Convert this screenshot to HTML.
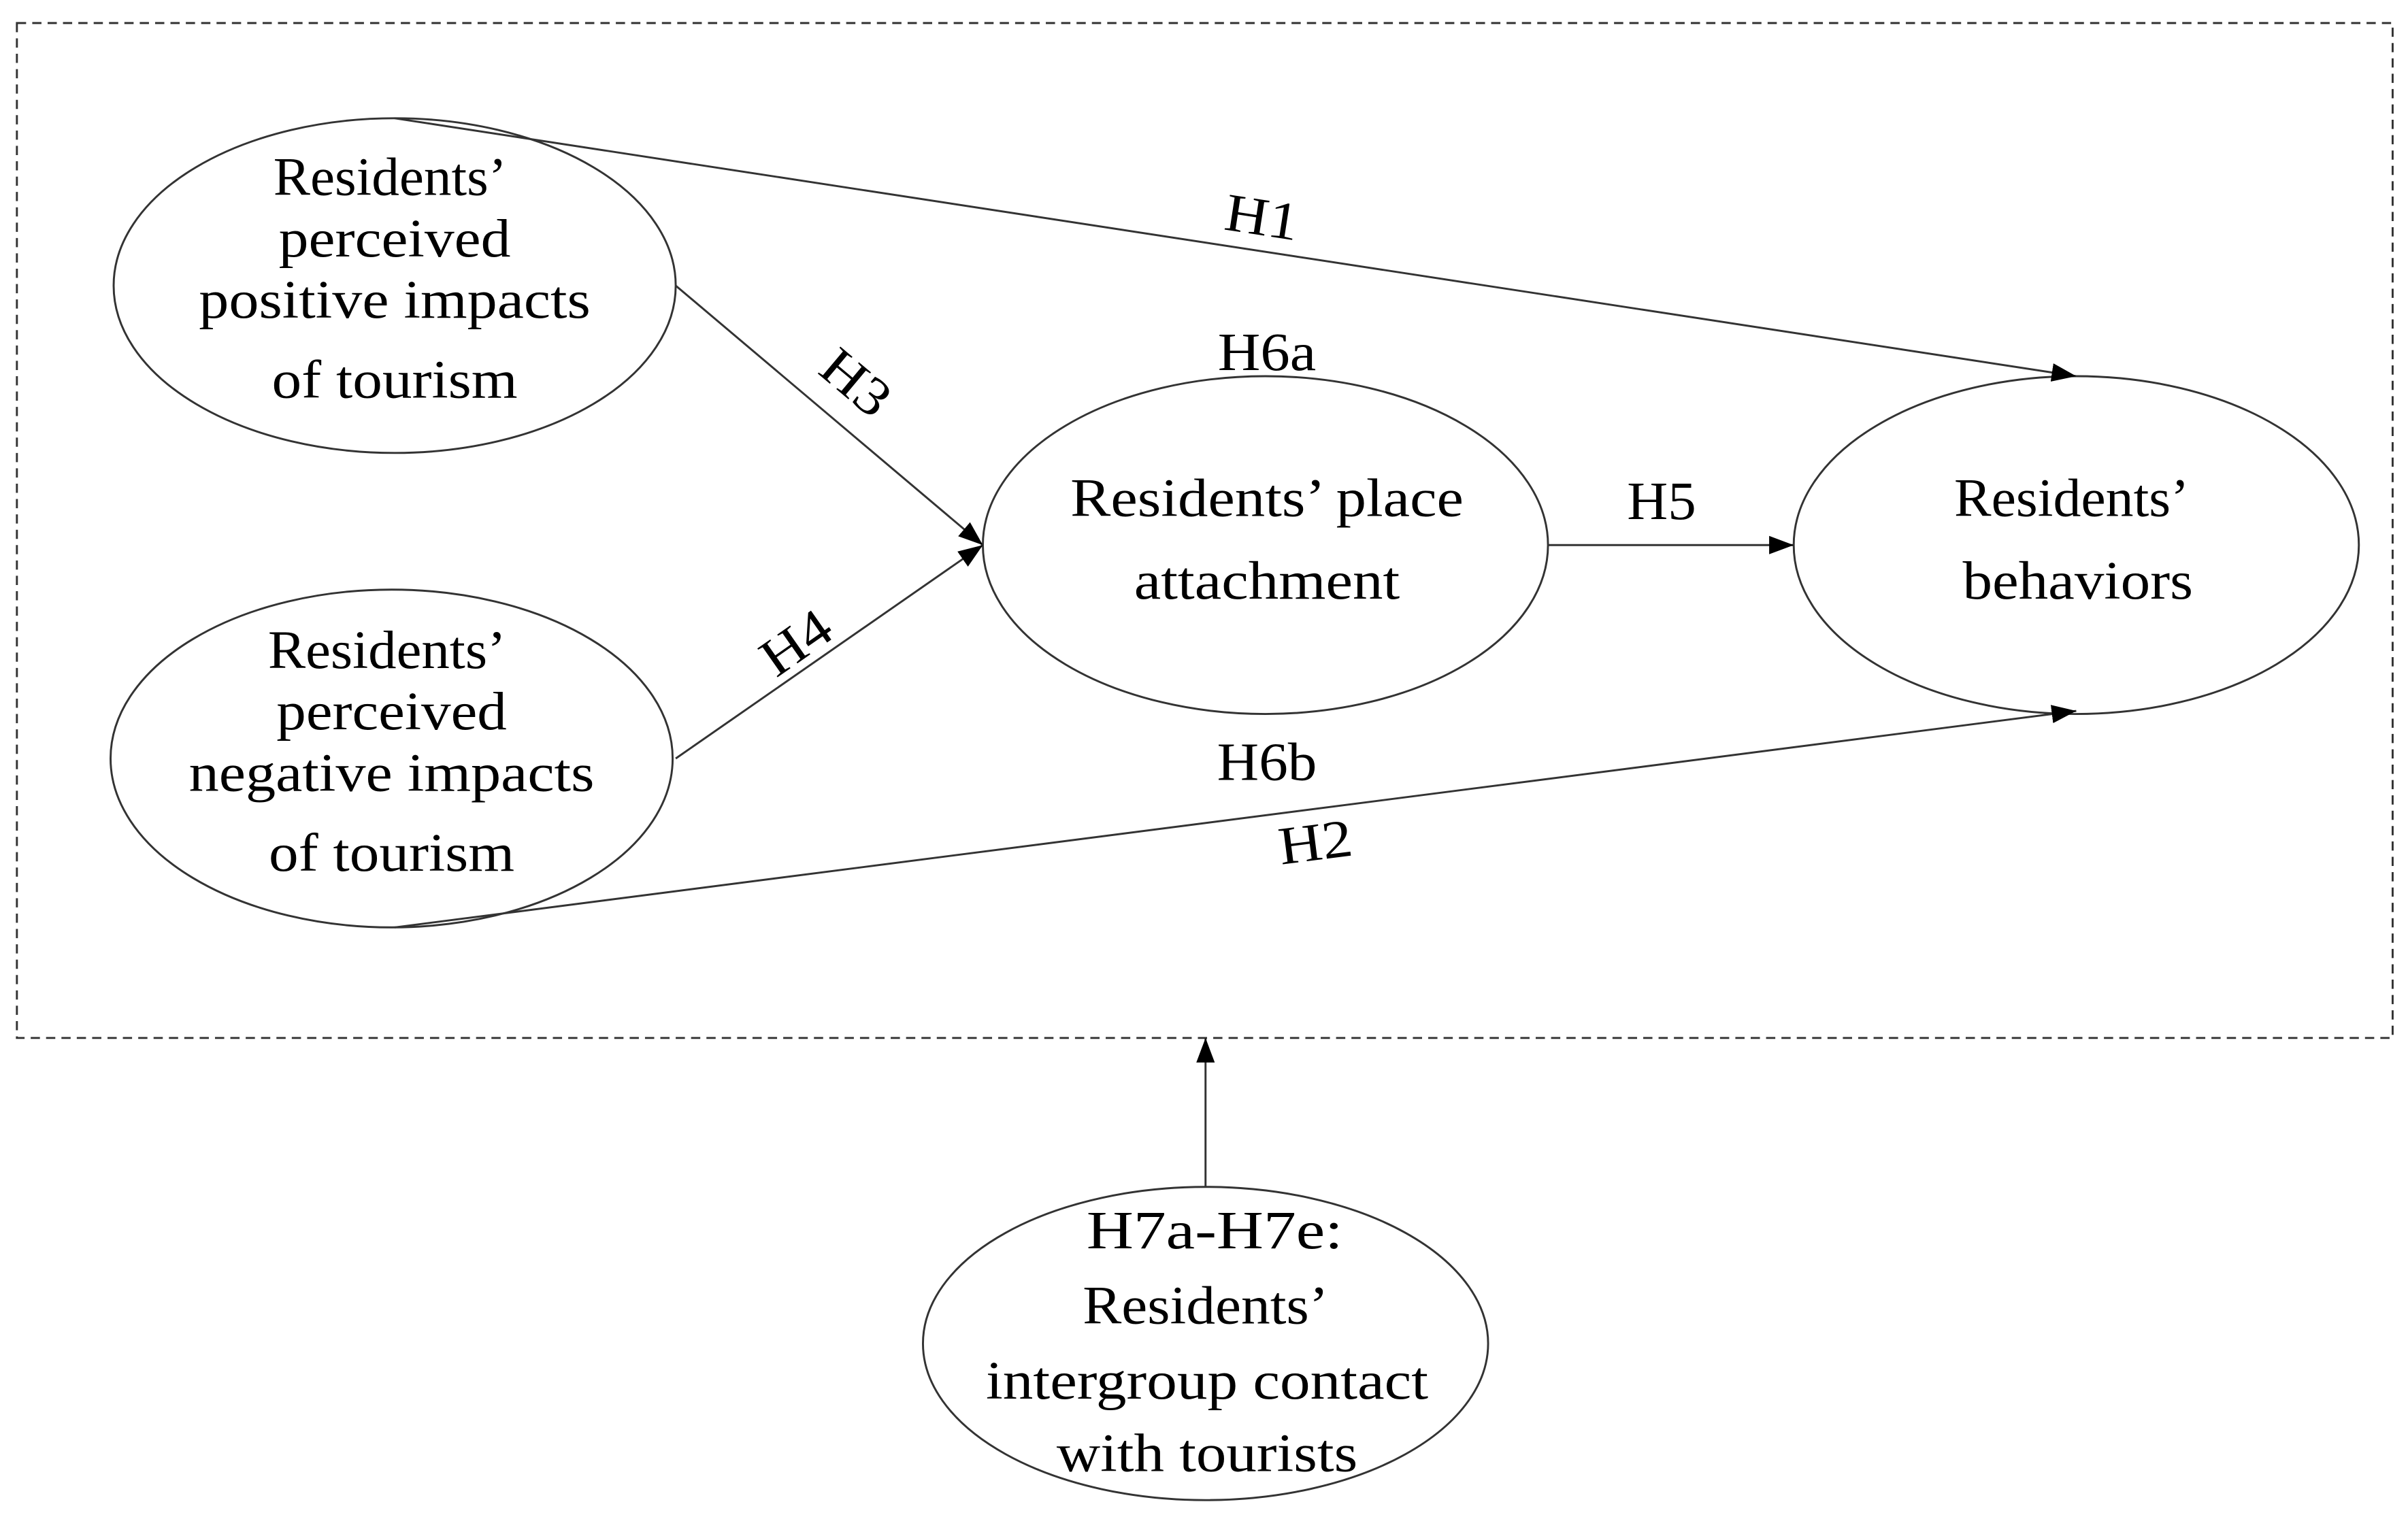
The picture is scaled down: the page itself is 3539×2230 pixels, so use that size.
<!DOCTYPE html>
<html><head><meta charset="utf-8"><style>
html,body{margin:0;padding:0;background:#fff;}
svg{display:block;}
text{font-family:"Liberation Serif",serif;font-size:35px;fill:#000;text-anchor:middle;}
</style></head><body>
<svg width="3539" height="2230" viewBox="0 0 1568 988" preserveAspectRatio="none" xmlns="http://www.w3.org/2000/svg">
<defs><marker id="b" markerWidth="16" markerHeight="12" refX="16" refY="6" orient="auto" markerUnits="userSpaceOnUse"><path d="M0,0L16,6L0,12z" fill="#000"/></marker></defs>
<rect x="11" y="15" width="1547" height="661" fill="none" stroke="#333" stroke-width="1.3" stroke-dasharray="6,4"/>
<g fill="none" stroke="#333" stroke-width="1.3">
<ellipse cx="257" cy="186" rx="183" ry="109"/>
<ellipse cx="255" cy="494" rx="183" ry="110"/>
<ellipse cx="824" cy="355" rx="184" ry="110"/>
<ellipse cx="1352" cy="355" rx="184" ry="110"/>
<ellipse cx="785" cy="875" rx="184" ry="102"/>
<line x1="257" y1="77" x2="1352" y2="245" marker-end="url(#b)"/>
<line x1="257" y1="604" x2="1352" y2="463" marker-end="url(#b)"/>
<line x1="440" y1="186" x2="640" y2="355" marker-end="url(#b)"/>
<line x1="440" y1="494" x2="640" y2="355" marker-end="url(#b)"/>
<line x1="1008" y1="355" x2="1168" y2="355" marker-end="url(#b)"/>
<line x1="785" y1="773" x2="785" y2="676" marker-end="url(#b)"/>
</g>
<g lengthAdjust="spacingAndGlyphs">
<text x="254" y="127" textLength="152" lengthAdjust="spacingAndGlyphs">Residents’</text>
<text x="257" y="167" textLength="151" lengthAdjust="spacingAndGlyphs">perceived</text>
<text x="257" y="207" textLength="255" lengthAdjust="spacingAndGlyphs">positive impacts</text>
<text x="257" y="259" textLength="160" lengthAdjust="spacingAndGlyphs">of tourism</text>
<text x="252" y="435" textLength="155" lengthAdjust="spacingAndGlyphs">Residents’</text>
<text x="255" y="475" textLength="150" lengthAdjust="spacingAndGlyphs">perceived</text>
<text x="255" y="515" textLength="264" lengthAdjust="spacingAndGlyphs">negative impacts</text>
<text x="255" y="567" textLength="160" lengthAdjust="spacingAndGlyphs">of tourism</text>
<text x="825" y="336" textLength="256" lengthAdjust="spacingAndGlyphs">Residents’ place</text>
<text x="825" y="390" textLength="173" lengthAdjust="spacingAndGlyphs">attachment</text>
<text x="1349" y="336" textLength="153" lengthAdjust="spacingAndGlyphs">Residents’</text>
<text x="1353" y="390" textLength="150" lengthAdjust="spacingAndGlyphs">behaviors</text>
<text x="791" y="813" textLength="167" lengthAdjust="spacingAndGlyphs">H7a-H7e:</text>
<text x="785" y="862" textLength="160" lengthAdjust="spacingAndGlyphs">Residents’</text>
<text x="786" y="911" textLength="288" lengthAdjust="spacingAndGlyphs">intergroup contact</text>
<text x="786" y="958" textLength="196" lengthAdjust="spacingAndGlyphs">with tourists</text>
<text x="825" y="241" textLength="64" lengthAdjust="spacingAndGlyphs">H6a</text>
<text x="825" y="508" textLength="65" lengthAdjust="spacingAndGlyphs">H6b</text>
<text x="1082" y="338" textLength="45" lengthAdjust="spacingAndGlyphs">H5</text>
</g>
<text transform="translate(820,153) rotate(8.7)" textLength="48" lengthAdjust="spacingAndGlyphs">H1</text>
<text transform="translate(858,560) rotate(-7.3)" textLength="48" lengthAdjust="spacingAndGlyphs">H2</text>
<text transform="translate(550,258) rotate(40)" textLength="48" lengthAdjust="spacingAndGlyphs">H3</text>
<text transform="translate(525,428) rotate(-35)" textLength="48" lengthAdjust="spacingAndGlyphs">H4</text>
</svg>
</body></html>
